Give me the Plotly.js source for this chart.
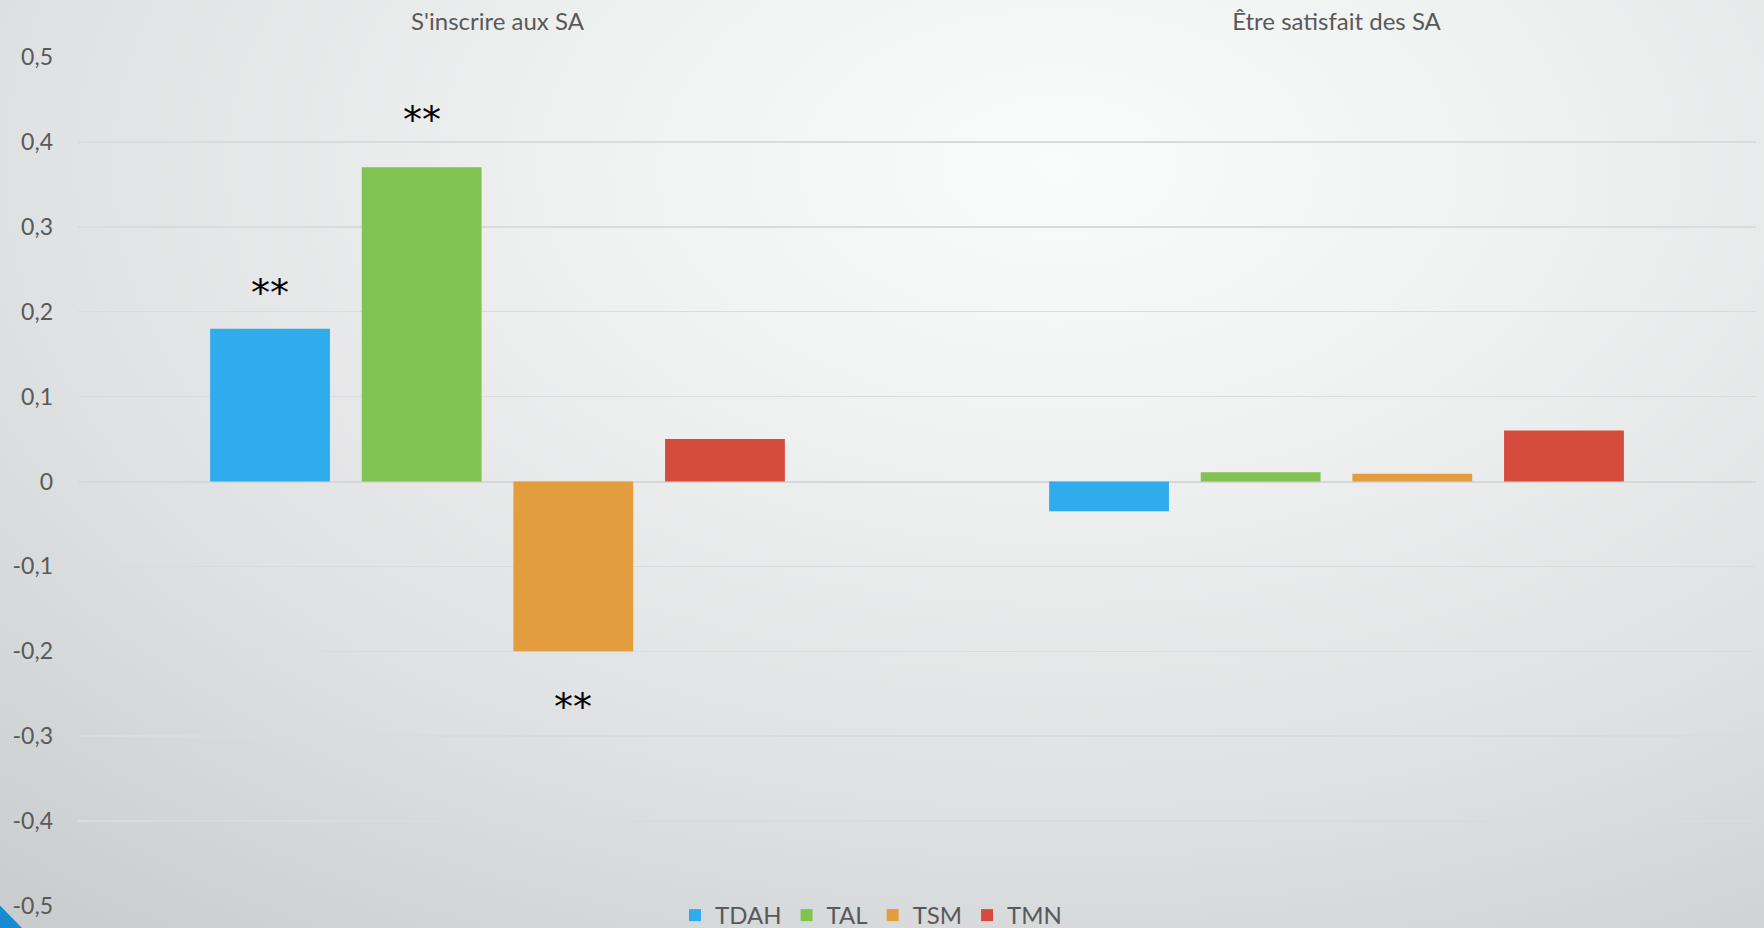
<!DOCTYPE html>
<html>
<head>
<meta charset="utf-8">
<script src="https://cdn.plot.ly/plotly-3.0.1.min.js"></script>
<style>
html, body { margin:0; padding:0; }
#chart {
  width:1764px; height:928px;
  background: radial-gradient(ellipse 95% 110% at 60% 18%, #fafbfb 0%, #f0f1f1 28%, #dfe1e2 62%, #c7cacb 100%);
}
</style>
</head>
<body>
<div id="chart"></div>
<script>
// ---- data ----
const categories = ["S'inscrire aux SA", "Être satisfait des SA"];
const seriesNames = ["TDAH", "TAL", "TSM", "TMN"];
const TDAH = [0.18, -0.035];
const TAL  = [0.37, 0.011];
const TSM  = [-0.20, 0.009];
const TMN  = [0.05, 0.06];
const significance = {
  TDAH: ["**", ""],
  TAL:  ["**", ""],
  TSM:  ["**", ""],
  TMN:  ["", ""]
};
const yTickVals = [-0.5, -0.4, -0.3, -0.2, -0.1, 0, 0.1, 0.2, 0.3, 0.4, 0.5];
const yTickText = ["-0,5", "-0,4", "-0,3", "-0,2", "-0,1", "0", "0,1", "0,2", "0,3", "0,4", "0,5"];

// ---- styling ----
const colors = { TDAH: "#30ACEC", TAL: "#80C350", TSM: "#E39D3F", TMN: "#D64C3C" };
const starShift = { TDAH: 12, TAL: 23, TSM: -32, TMN: 12 };
const seriesValues = { TDAH, TAL, TSM, TMN };
const bargap = 0.277;
const legendDrop = 18; // px the legend row sits lower, overlapping the bottom margin

const traces = seriesNames.map(n => ({
  type: "bar",
  name: n,
  x: categories,
  y: seriesValues[n],
  marker: { color: colors[n], line: { width: 0 } },
  hoverinfo: "skip"
}));

const annotations = [];
const slot = (1 - bargap) / seriesNames.length;
seriesNames.forEach((n, si) => {
  categories.forEach((c, ci) => {
    const t = significance[n][ci];
    if (!t) return;
    const v = seriesValues[n][ci];
    annotations.push({
      x: ci + (si - (seriesNames.length - 1) / 2) * slot,
      xref: "x",
      y: v,
      yref: "y",
      text: t,
      showarrow: false,
      yanchor: v >= 0 ? "bottom" : "top",
      yshift: starShift[n],
      font: { family: "DejaVu Sans, sans-serif", size: 38, color: "#000000" }
    });
  });
});

const layout = {
  width: 1764,
  height: 928,
  margin: { l: 78, r: 8, t: 57, b: 22 },
  paper_bgcolor: "rgba(0,0,0,0)",
  plot_bgcolor: "rgba(0,0,0,0)",
  barmode: "group",
  bargap: bargap,
  bargroupgap: 0.21,
  showlegend: true,
  legend: {
    orientation: "h",
    x: 0.4726, xanchor: "center",
    y: -0.0165, yanchor: "bottom",
    font: { family: "Lato, 'Open Sans', sans-serif", size: 24, color: "#595959" },
    bgcolor: "rgba(0,0,0,0)",
    itemclick: false
  },
  xaxis: {
    type: "category",
    side: "top",
    showline: false,
    showgrid: false,
    zeroline: false,
    ticks: "",
    ticklabelstandoff: 21,
    tickfont: { family: "Lato, 'Open Sans', sans-serif", size: 24, color: "#595959" }
  },
  yaxis: {
    range: [-0.5, 0.5],
    tickvals: yTickVals,
    ticktext: yTickText,
    showgrid: true,
    gridcolor: "#dadbdc",
    gridwidth: 1.5,
    zeroline: true,
    zerolinecolor: "#d6d7d8",
    zerolinewidth: 2,
    showline: false,
    ticks: "",
    ticklabelstandoff: 24,
    tickfont: { family: "Lato, 'Open Sans', sans-serif", size: 23, color: "#595959" }
  },
  annotations: annotations,
  shapes: [{
    type: "path",
    xref: "paper", yref: "paper",
    path: "M -0.0465,0.0005 L -0.0334,-0.0259 L -0.0465,-0.0259 Z",
    fillcolor: "#1A8AD0",
    line: { width: 0 },
    layer: "above"
  }],
  font: { family: "Lato, sans-serif" }
};

Plotly.newPlot("chart", traces, layout, { displayModeBar: false, staticPlot: true }).then(gd => {
  const lg = gd.querySelector("g.legend");
  if (!lg) return;
  const tr = lg.getAttribute("transform") || "";
  const m = tr.match(/translate\(\s*([-\d.e]+)[ ,]+([-\d.e]+)\s*\)/);
  if (m) {
    lg.setAttribute("transform", "translate(" + m[1] + "," + (parseFloat(m[2]) + legendDrop) + ")");
  }
});
</script>
</body>
</html>
